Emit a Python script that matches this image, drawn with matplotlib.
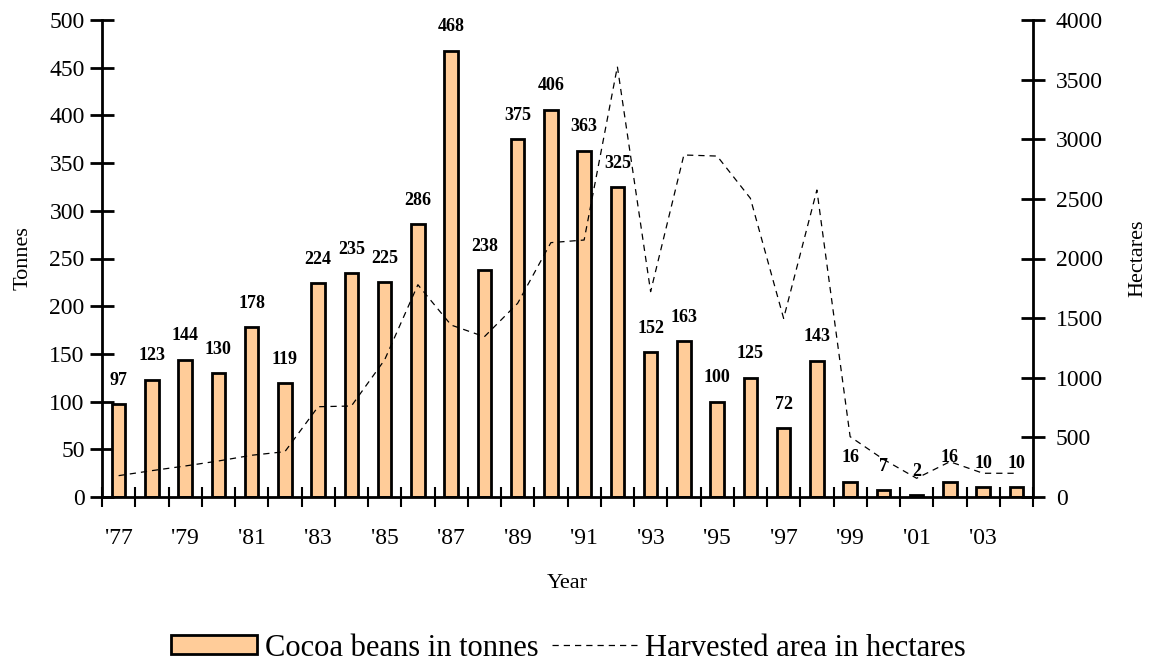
import matplotlib
matplotlib.use("Agg")
import matplotlib.pyplot as plt
import numpy as np
from matplotlib.patches import Patch
from matplotlib.lines import Line2D

plt.rcParams['font.family'] = ['Liberation Serif', 'DejaVu Serif']

years = list(range(1977, 2005))
tonnes = [97, 123, 144, 130, 178, 119, 224, 235, 225, 286, 468, 238, 375, 406,
          363, 325, 152, 163, 100, 125, 72, 143, 16, 7, 2, 16, 10, 10]
hectares = [179, 221, 260, 302, 350, 380, 757, 763, 1150, 1780, 1442, 1344, 1624, 2133,
            2155, 3609, 1722, 2868, 2859, 2505, 1498, 2574, 506, 316, 157, 296, 199, 199]
tick_labels = ["'77", "'79", "'81", "'83", "'85", "'87", "'89", "'91", "'93", "'95",
               "'97", "'99", "'01", "'03"]

fig = plt.figure(figsize=(11.51, 6.66), dpi=100)
ax = fig.add_axes([102/1151, 1 - 497/666, (1033-102)/1151, (497-20)/666])
ax2 = ax.twinx()

x = np.arange(len(years))
ax.bar(x, tonnes, width=0.4, color='#FFCC99', edgecolor='black', linewidth=2, zorder=2)
for xi, v in zip(x, tonnes):
    ax.annotate(str(v), (xi, v), xytext=(0, 11), textcoords='offset points',
                ha='center', va='bottom', fontsize=13, fontweight='bold')

ax2.plot(x, hectares, color='black', linestyle=(0, (5, 4)), linewidth=0.9, zorder=3)

ax.set_xlim(-0.5, len(years) - 0.5)
ax.set_ylim(0, 500)
ax2.set_ylim(0, 4000)
ax.set_yticks(np.arange(0, 501, 50))
ax2.set_yticks(np.arange(0, 4001, 500))

ax.set_xticks(x[::2])
ax.set_xticklabels(tick_labels)
ax.set_xticks(np.arange(-0.5, len(years)), minor=True)
ax.tick_params(axis='x', which='major', length=0, pad=22, labelsize=17)
ax.tick_params(axis='x', which='minor', direction='inout', length=14, width=1.5)
ax.tick_params(axis='y', direction='inout', length=17, width=2, labelsize=17, pad=4)
ax2.tick_params(axis='y', direction='inout', length=17, width=2, labelsize=17, pad=8)

for a in (ax, ax2):
    a.spines['top'].set_visible(False)
    for s in ('left', 'right', 'bottom'):
        a.spines[s].set_linewidth(2)
ax.spines['right'].set_visible(False)
ax2.spines['left'].set_visible(False)
ax2.spines['bottom'].set_visible(False)

ax.set_ylabel('Tonnes', fontsize=16, labelpad=12)
ax2.set_ylabel('Hectares', fontsize=16, rotation=90, labelpad=18)
ax.set_xlabel('Year', fontsize=16, labelpad=18)

handles = [Patch(facecolor='#FFCC99', edgecolor='black', linewidth=2),
           Line2D([0], [0], color='black', linestyle=(0, (5, 4)), linewidth=0.9)]
fig.legend(handles, ['Cocoa beans in tonnes', 'Harvested area in hectares'],
           loc='center', bbox_to_anchor=(0.494, 1 - 648/666), ncol=2, frameon=False,
           fontsize=22, handlelength=2.8, handleheight=0.6, columnspacing=0.45,
           handletextpad=0.25, borderpad=0.2)

fig.savefig('out.png', dpi=100)
